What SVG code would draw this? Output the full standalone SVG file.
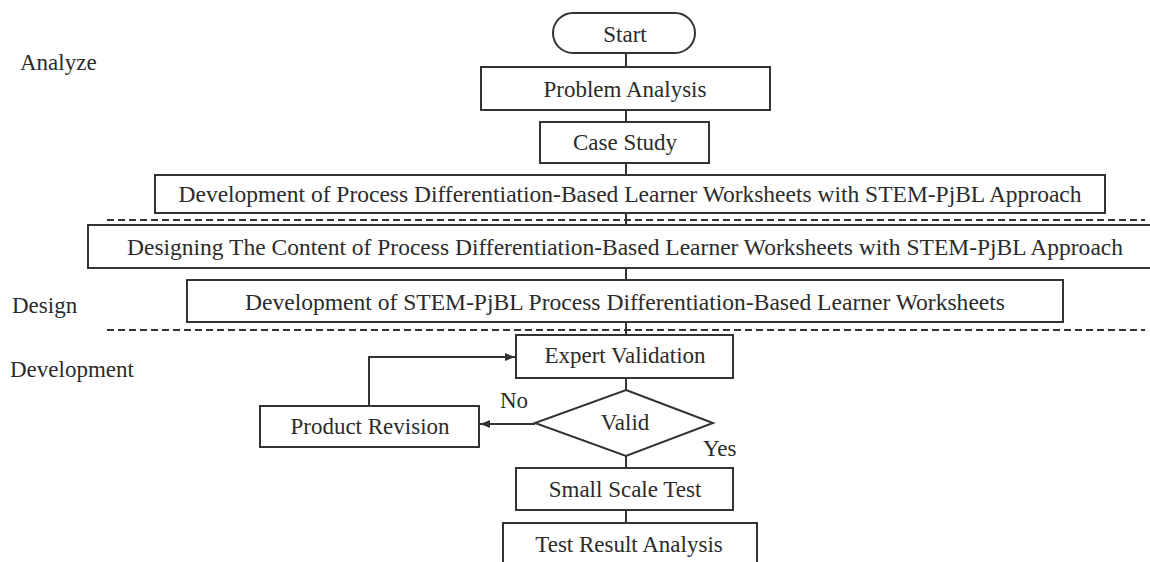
<svg xmlns="http://www.w3.org/2000/svg" width="1150" height="562" viewBox="0 0 1150 562">
<style>
  .box { fill: #ffffff; stroke: #333333; stroke-width: 2; }
  .t { font-family: "Liberation Serif", "Times New Roman", serif; font-size: 23px; fill: #2b2b2b; text-anchor: middle; }
  .lbl { font-family: "Liberation Serif", "Times New Roman", serif; font-size: 23px; fill: #2b2b2b; }
  .ln { fill: none; stroke: #333333; stroke-width: 2; }
  .dash { fill: none; stroke: #333333; stroke-width: 2; stroke-dasharray: 7 4; }
</style>
<defs>
  <marker id="arr" viewBox="0 0 10 10" refX="10" refY="5" markerWidth="10" markerHeight="10" markerUnits="userSpaceOnUse" orient="auto">
    <path d="M0,1 L10,5 L0,9 z" fill="#333333"/>
  </marker>
</defs>
<rect width="1150" height="562" fill="#ffffff"/>

<g id="phase-labels">
  <text class="lbl" x="20" y="70">Analyze</text>
  <text class="lbl" x="12" y="313">Design</text>
  <text class="lbl" x="10" y="377">Development</text>
</g>

<g id="separators">
  <line class="dash" x1="107" y1="220" x2="1145" y2="220"/>
  <line class="dash" x1="107" y1="330" x2="1145" y2="330"/>
</g>

<g id="connectors">
  <line class="ln" x1="626" y1="53" x2="626" y2="67"/>
  <line class="ln" x1="626" y1="110" x2="626" y2="122"/>
  <line class="ln" x1="626" y1="163" x2="626" y2="175"/>
  <line class="ln" x1="626" y1="213" x2="626" y2="225"/>
  <line class="ln" x1="626" y1="268" x2="626" y2="280"/>
  <line class="ln" x1="626" y1="322" x2="626" y2="335"/>
  <line class="ln" x1="626" y1="378" x2="626" y2="390"/>
  <line class="ln" x1="626" y1="456" x2="626" y2="468"/>
  <line class="ln" x1="626" y1="510" x2="626" y2="523"/>
  <line class="ln" x1="535" y1="424" x2="480" y2="424" marker-end="url(#arr)"/>
  <polyline class="ln" points="369,406 369,357 515,357" marker-end="url(#arr)"/>
  <text class="lbl" x="500" y="408">No</text>
  <text class="lbl" x="703" y="456">Yes</text>
</g>

<g id="start">
  <rect class="box" x="553" y="13" width="142" height="40" rx="20" ry="20"/>
  <text class="t" x="625" y="42">Start</text>
</g>
<g id="problem-analysis">
  <rect class="box" x="481" y="67" width="289" height="43"/>
  <text class="t" x="625" y="97">Problem Analysis</text>
</g>
<g id="case-study">
  <rect class="box" x="540" y="122" width="169" height="41"/>
  <text class="t" x="625" y="150">Case Study</text>
</g>
<g id="development-lkpd">
  <rect class="box" x="155" y="175" width="950" height="38"/>
  <text class="t" x="630" y="202" textLength="903" lengthAdjust="spacingAndGlyphs">Development of Process Differentiation-Based Learner Worksheets with STEM-PjBL Approach</text>
</g>
<g id="designing-content">
  <rect class="box" x="88" y="225" width="1074" height="43"/>
  <text class="t" x="625" y="255" textLength="996" lengthAdjust="spacingAndGlyphs">Designing The Content of Process Differentiation-Based Learner Worksheets with STEM-PjBL Approach</text>
</g>
<g id="development-stem">
  <rect class="box" x="187" y="280" width="876" height="42"/>
  <text class="t" x="625" y="310" textLength="760" lengthAdjust="spacingAndGlyphs">Development of STEM-PjBL Process Differentiation-Based Learner Worksheets</text>
</g>
<g id="expert-validation">
  <rect class="box" x="516" y="335" width="217" height="43"/>
  <text class="t" x="625" y="363">Expert Validation</text>
</g>
<g id="valid">
  <polygon class="box" points="626,390 713,423 626,456 535,423"/>
  <text class="t" x="625" y="430">Valid</text>
</g>
<g id="product-revision">
  <rect class="box" x="260" y="406" width="219" height="41"/>
  <text class="t" x="370" y="434">Product Revision</text>
</g>
<g id="small-scale-test">
  <rect class="box" x="516" y="468" width="217" height="42"/>
  <text class="t" x="625" y="497">Small Scale Test</text>
</g>
<g id="test-result-analysis">
  <rect class="box" x="503" y="523" width="254" height="44"/>
  <text class="t" x="629" y="552">Test Result Analysis</text>
</g>
</svg>
